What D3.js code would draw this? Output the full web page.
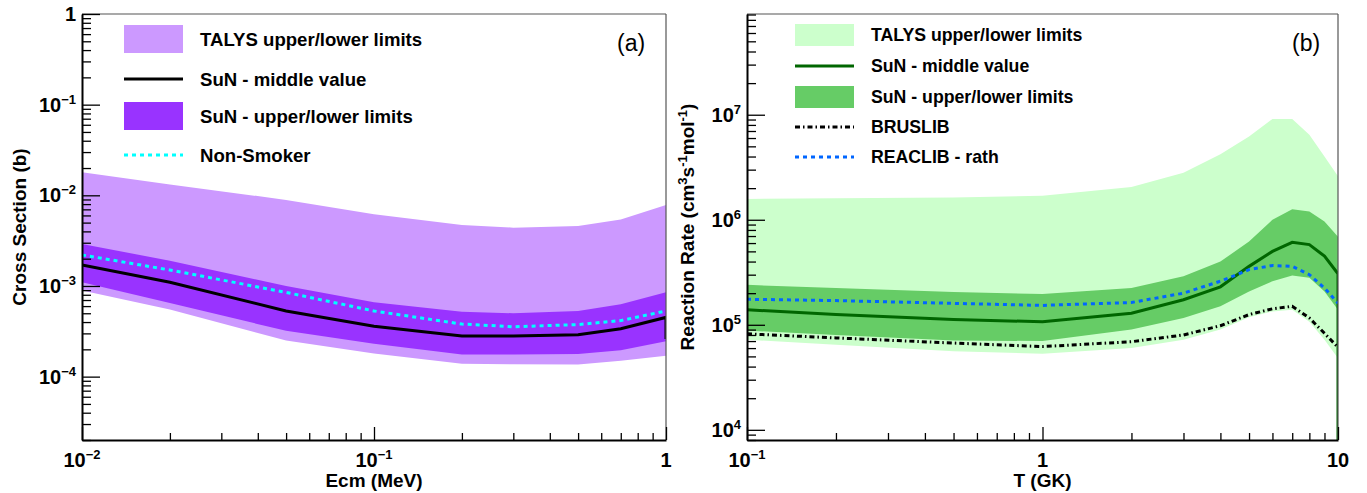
<!DOCTYPE html>
<html lang="en">
<head>
  <meta charset="UTF-8">
  <title>Cross section and reaction rate</title>
  <script src="https://d3js.org/d3.v7.min.js"></script>
  <style>
    body { margin: 0; background: #fff; }
    svg { font-family: "Liberation Sans", Arial, Helvetica, sans-serif; }
    .tick-label { font-weight: bold; font-size: 20px; }
    .axis-title { font-weight: bold; font-size: 19px; }
    .leg { font-weight: bold; }
  </style>
</head>
<body>
  <script>
    // ---- panel (a): cross section vs Ecm ----
    const energy = [0.01, 0.02, 0.05, 0.1, 0.2, 0.3, 0.5, 0.7, 1.0];
    const talysHighA = [1.8e-2, 1.32e-2, 8.9e-3, 6.2e-3, 4.7e-3, 4.4e-3, 4.6e-3, 5.4e-3, 7.8e-3];
    const talysLowA = [8.9e-4, 5.5e-4, 2.5e-4, 1.8e-4, 1.39e-4, 1.37e-4, 1.36e-4, 1.5e-4, 1.7e-4];
    const sunHighA = [2.9e-3, 1.9e-3, 1.0e-3, 6.6e-4, 5.2e-4, 5.0e-4, 5.3e-4, 6.3e-4, 8.5e-4];
    const sunLowA = [1.1e-3, 6.5e-4, 3.2e-4, 2.3e-4, 1.75e-4, 1.75e-4, 1.78e-4, 1.95e-4, 2.45e-4];
    const sunMidA = [1.7e-3, 1.1e-3, 5.3e-4, 3.6e-4, 2.8e-4, 2.8e-4, 2.9e-4, 3.37e-4, 4.5e-4];
    const sunMidEndA = [1.0, 2.6e-4]; // graph closes with a drop at the last point
    const nonSmoker = [2.2e-3, 1.5e-3, 8.5e-4, 5.3e-4, 3.8e-4, 3.55e-4, 3.75e-4, 4.15e-4, 5.3e-4];

    // ---- panel (b): reaction rate vs T ----
    const temp = [0.1, 0.2, 0.5, 1, 2, 3, 4, 5, 6, 7, 8, 9, 10];
    const talysHighB = [1.58e6, 1.6e6, 1.63e6, 1.69e6, 2.05e6, 2.8e6, 4.2e6, 6.2e6, 9.1e6, 9.1e6, 6.45e6, 4.0e6, 2.6e6];
    const talysLowB = [7.2e4, 6.45e4, 5.6e4, 5.3e4, 6.0e4, 7.2e4, 9.0e4, 1.18e5, 1.34e5, 1.39e5, 1.07e5, 7.2e4, 4.8e4];
    const sunHighB = [2.4e5, 2.24e5, 2.05e5, 1.96e5, 2.24e5, 2.9e5, 4.0e5, 6.2e5, 1.0e6, 1.26e6, 1.2e6, 9.6e5, 6.9e5];
    const sunLowB = [8.8e4, 8.0e4, 7.1e4, 7.0e4, 9.0e4, 1.16e5, 1.5e5, 2.07e5, 2.6e5, 2.95e5, 2.8e5, 2.07e5, 1.39e5];
    const sunMidB = [1.39e5, 1.25e5, 1.12e5, 1.07e5, 1.29e5, 1.73e5, 2.3e5, 3.6e5, 5.0e5, 6.1e5, 5.8e5, 4.5e5, 3.06e5];
    const sunMidEndB = [10, 8e3];
    const reaclib = [1.75e5, 1.7e5, 1.6e5, 1.53e5, 1.63e5, 2.0e5, 2.6e5, 3.35e5, 3.67e5, 3.6e5, 3.0e5, 2.24e5, 1.6e5];
    const bruslib = [8.2e4, 7.5e4, 6.7e4, 6.2e4, 6.9e4, 8.0e4, 9.8e4, 1.25e5, 1.42e5, 1.5e5, 1.16e5, 8.3e4, 6.1e4];

    // tick labels: [base, superscript]
    const xLabelsA = [["10", "\u22122"], ["10", "\u22121"], ["1", ""]];
    const yLabelsA = [["10", "\u22124"], ["10", "\u22123"], ["10", "\u22122"], ["10", "\u22121"], ["1", ""]];
    const xLabelsB = [["10", "\u22121"], ["1", ""], ["10", ""]];
    const yLabelsB = [["10", "4"], ["10", "5"], ["10", "6"], ["10", "7"]];

    const legendA = ["TALYS upper/lower limits", "SuN - middle value", "SuN - upper/lower limits", "Non-Smoker"];
    const legendB = ["TALYS upper/lower limits", "SuN - middle value", "SuN - upper/lower limits", "BRUSLIB", "REACLIB - rath"];

    const width = 1367, height = 493;
    const svg = d3.select("body").append("svg")
      .attr("width", width)
      .attr("height", height);

    function logTicks([lo, hi]) {
      const major = [], minor = [];
      for (let e = Math.floor(Math.log10(lo)); e <= Math.ceil(Math.log10(hi)); e++) {
        for (let m = 1; m < 10; m++) {
          const v = m * Math.pow(10, e);
          if (v < lo * 0.999 || v > hi * 1.001) continue;
          (m === 1 ? major : minor).push(v);
        }
      }
      return { major, minor };
    }

    function supLabel(g, x, y, parts, anchor) {
      const t = g.append("text")
        .attr("class", "tick-label")
        .attr("x", x)
        .attr("y", y)
        .attr("text-anchor", anchor);
      t.append("tspan").text(parts[0]);
      if (parts[1]) {
        t.append("tspan")
          .attr("dy", -8)
          .style("font-size", "13px")
          .text(parts[1]);
      }
    }

    function drawPanel(p) {
      const x = d3.scaleLog().domain(p.xDomain).range([p.left, p.right]);
      const y = d3.scaleLog().domain(p.yDomain).range([p.bottom, p.top]);
      const g = svg.append("g");

      g.append("clipPath").attr("id", p.id)
        .append("rect")
        .attr("x", p.left).attr("y", p.top)
        .attr("width", p.right - p.left).attr("height", p.bottom - p.top);

      const plot = g.append("g").attr("clip-path", `url(#${p.id})`);
      const area = (lo, hi) => d3.area()
        .x((d, i) => x(p.xs[i]))
        .y0((d, i) => y(lo[i]))
        .y1((d, i) => y(hi[i]))(p.xs);
      const line = d3.line().x(d => x(d[0])).y(d => y(d[1]));

      plot.append("path").attr("d", area(p.outerLow, p.outerHigh)).attr("fill", p.outerColor);
      plot.append("path").attr("d", area(p.innerLow, p.innerHigh)).attr("fill", p.innerColor);

      p.lines.forEach(l => {
        const pts = p.xs.map((v, i) => [v, l.values[i]]);
        if (l.end) pts.push(l.end);
        plot.append("path")
          .attr("d", line(pts))
          .attr("fill", "none")
          .attr("stroke", l.color)
          .attr("stroke-width", l.width)
          .attr("stroke-dasharray", l.dash || null);
      });

      // frame
      g.append("line").attr("x1", p.left).attr("x2", p.right).attr("y1", p.top).attr("y2", p.top)
        .attr("stroke", "#555").attr("stroke-width", 1.2);
      g.append("line").attr("x1", p.right).attr("x2", p.right).attr("y1", p.top).attr("y2", p.bottom)
        .attr("stroke", "#555").attr("stroke-width", 1.2);

      const xt = logTicks(p.xDomain), yt = logTicks(p.yDomain);

      const xAxisG = g.append("g").attr("transform", `translate(0,${p.bottom})`);
      xAxisG.append("g").call(d3.axisBottom(x).tickValues(xt.minor).tickSize(-7).tickFormat(""))
        .call(a => a.select(".domain").remove());
      xAxisG.append("g").call(d3.axisBottom(x).tickValues(xt.major).tickSize(-13).tickSizeOuter(0).tickFormat(""))
        .call(a => a.select(".domain").attr("stroke-width", 2));
      xAxisG.selectAll(".tick line").attr("stroke-width", 1.3);

      const yAxisG = g.append("g").attr("transform", `translate(${p.left},0)`);
      yAxisG.append("g").call(d3.axisLeft(y).tickValues(yt.minor).tickSize(-9).tickFormat(""))
        .call(a => a.select(".domain").remove());
      yAxisG.append("g").call(d3.axisLeft(y).tickValues(yt.major).tickSize(-18).tickSizeOuter(0).tickFormat(""))
        .call(a => a.select(".domain").attr("stroke-width", 2));
      yAxisG.selectAll(".tick line").attr("stroke-width", 1.3);

      xt.major.forEach((v, i) => supLabel(g, x(v), p.bottom + 27, p.xLabels[i], "middle"));
      yt.major.forEach((v, i) => supLabel(g, p.left - 6, y(v) + 7, p.yLabels[i], "end"));

      g.append("text").attr("class", "axis-title")
        .attr("x", (p.left + p.right) / 2).attr("y", 487)
        .attr("text-anchor", "middle").text(p.xTitle);

      // y title, superscripts shift up and the next part shifts back
      const yt2 = g.append("text").attr("class", "axis-title")
        .attr("transform", `translate(${p.yTitleX},${(p.top + p.bottom) / 2}) rotate(-90)`)
        .attr("text-anchor", "middle");
      let raised = false;
      p.yTitle.forEach(([txt, sup]) => {
        const dy = sup ? (raised ? 0 : -7) : (raised ? 7 : 0);
        yt2.append("tspan").attr("dy", dy).style("font-size", sup ? "13px" : null).text(txt);
        raised = sup;
      });

      g.append("text")
        .attr("x", p.tagX).attr("y", 51)
        .style("font-size", "23px")
        .text(p.tag);

      // legend
      const lg = g.append("g").attr("class", "leg").style("font-size", p.legFont + "px");
      p.legend.forEach((e, i) => {
        const cy = p.legRows[i];
        if (e.type === "box") {
          lg.append("rect").attr("x", p.legX).attr("y", cy - p.boxH / 2)
            .attr("width", 59).attr("height", p.boxH).attr("fill", e.color);
        } else {
          lg.append("line").attr("x1", p.legX).attr("x2", p.legX + 59).attr("y1", cy).attr("y2", cy)
            .attr("stroke", e.color).attr("stroke-width", e.width).attr("stroke-dasharray", e.dash || null);
        }
        lg.append("text").attr("x", p.legX + 76).attr("y", cy).attr("dy", "0.36em").text(e.label);
      });
    }

    drawPanel({
      id: "clipA", left: 82, right: 666, top: 14, bottom: 440,
      xDomain: [0.01, 1], yDomain: [2e-5, 1],
      xs: energy,
      outerLow: talysLowA, outerHigh: talysHighA, outerColor: "#cc99ff",
      innerLow: sunLowA, innerHigh: sunHighA, innerColor: "#9933ff",
      lines: [
        { values: sunMidA, end: sunMidEndA, color: "#000", width: 3 },
        { values: nonSmoker, color: "#00ffff", width: 3, dash: "4,4" }
      ],
      xLabels: xLabelsA, yLabels: yLabelsA,
      xTitle: "Ecm (MeV)",
      yTitle: [["Cross Section (b)", false]],
      yTitleX: 26,
      tag: "(a)", tagX: 617,
      legX: 124, legFont: 18.6, boxH: 28, legRows: [39, 79, 116, 155],
      legend: [
        { type: "box", color: "#cc99ff", label: legendA[0] },
        { type: "line", color: "#000", width: 3, label: legendA[1] },
        { type: "box", color: "#9933ff", label: legendA[2] },
        { type: "line", color: "#00ffff", width: 3, dash: "4,4", label: legendA[3] }
      ]
    });

    drawPanel({
      id: "clipB", left: 747, right: 1338, top: 14, bottom: 440,
      xDomain: [0.1, 10], yDomain: [8e3, 9.1e7],
      xs: temp,
      outerLow: talysLowB, outerHigh: talysHighB, outerColor: "#ccffcc",
      innerLow: sunLowB, innerHigh: sunHighB, innerColor: "#66cc66",
      lines: [
        { values: sunMidB, end: sunMidEndB, color: "#006600", width: 3 },
        { values: bruslib, color: "#000", width: 3, dash: "5,3,1.5,3" },
        { values: reaclib, color: "#0066ff", width: 3, dash: "4,4" }
      ],
      xLabels: xLabelsB, yLabels: yLabelsB,
      xTitle: "T (GK)",
      yTitle: [["Reaction Rate (cm", false], ["3", true], ["s", false], ["-1", true], ["mol", false], ["-1", true], [")", false]],
      yTitleX: 694,
      tag: "(b)", tagX: 1292,
      legX: 795, legFont: 17.7, boxH: 22, legRows: [35, 66, 97, 127, 157],
      legend: [
        { type: "box", color: "#ccffcc", label: legendB[0] },
        { type: "line", color: "#006600", width: 3, label: legendB[1] },
        { type: "box", color: "#66cc66", label: legendB[2] },
        { type: "line", color: "#000", width: 3, dash: "5,3,1.5,3", label: legendB[3] },
        { type: "line", color: "#0066ff", width: 3, dash: "4,4", label: legendB[4] }
      ]
    });
  </script>
</body>
</html>
